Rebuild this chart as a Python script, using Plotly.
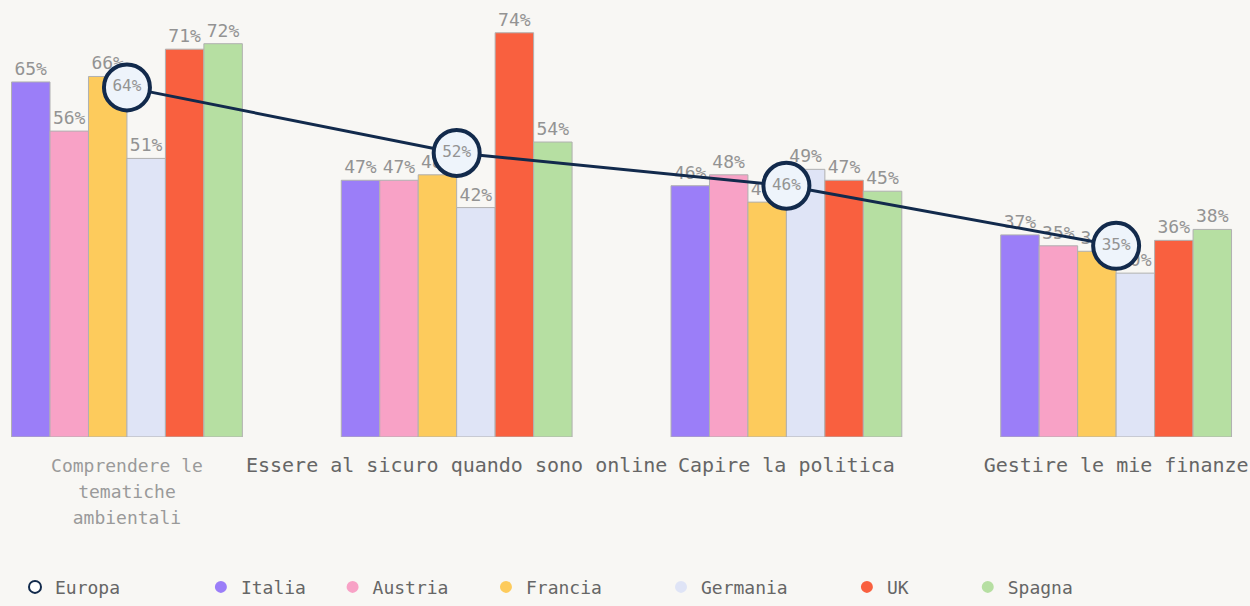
import plotly.graph_objects as go

categories = ["<span style='color:#9a9a9a;font-size:18px'>Comprendere le<br>tematiche<br>ambientali</span>",
              "Essere al sicuro quando sono online",
              "Capire la politica", "Gestire le mie finanze"]
countries = ["Italia", "Austria", "Francia", "Germania", "UK", "Spagna"]
values = {
    "Italia":   [65, 47, 46, 37],
    "Austria":  [56, 47, 48, 35],
    "Francia":  [66, 48, 43, 34],
    "Germania": [51, 42, 49, 30],
    "UK":       [71, 74, 47, 36],
    "Spagna":   [72, 54, 45, 38],
}
europa = [64, 52, 46, 35]

colors = {
    "Italia": "#9b7ef8",
    "Austria": "#f8a2c6",
    "Francia": "#fdcb5c",
    "Germania": "#dfe4f6",
    "UK": "#f9603f",
    "Spagna": "#b6dfa2",
}
legend_pad = {"Europa": 7, "Italia": 2, "Austria": 3, "Francia": 5, "Germania": 5, "UK": 5, "Spagna": 0}
BG = "#f8f7f4"
NAVY = "#122a4c"
FONT = "DejaVu Sans Mono"

fig = go.Figure()
for c in countries:
    fig.add_trace(go.Bar(
        x=categories, y=values[c], name=c,
        marker=dict(color=colors[c], line=dict(color="#b0b0b0", width=1)),
        text=[f"{v}%" for v in values[c]], textposition="outside",
        textfont=dict(color="#939393", size=18, family=FONT),
        cliponaxis=False, showlegend=False,
    ))

fig.add_trace(go.Scatter(
    x=categories, y=europa, name="Europa", mode="lines+markers+text",
    line=dict(color=NAVY, width=3),
    marker=dict(size=46, color="#eef4fb", line=dict(color=NAVY, width=4)),
    text=[f"{v}%" for v in europa], textposition="middle center",
    textfont=dict(color="#939393", size=16, family=FONT),
    cliponaxis=False, showlegend=False,
))

# legend entries (circle symbols)
fig.add_trace(go.Scatter(x=[None], y=[None], mode="markers",
                         name="Europa" + "\u00a0" * legend_pad["Europa"],
                         marker=dict(size=15, color="#ffffff", line=dict(color=NAVY, width=3.5))))
for c in countries:
    fig.add_trace(go.Scatter(x=[None], y=[None], mode="markers",
                             name=c + "\u00a0" * legend_pad[c],
                             marker=dict(size=18, color=colors[c], line=dict(width=0))))

fig.update_layout(
    width=1250, height=606,
    paper_bgcolor=BG, plot_bgcolor=BG,
    margin=dict(l=0, r=0, t=0, b=169),
    barmode="group", bargap=0.30, bargroupgap=0,
    font=dict(family=FONT, color="#666666"),
    legend=dict(orientation="h", x=0.012, xanchor="left", y=-0.386, yanchor="bottom",
                font=dict(size=18, color="#666666", family=FONT),
                itemsizing="constant", bgcolor="rgba(0,0,0,0)"),
)
fig.update_xaxes(range=[-0.385, 3.406], showgrid=False, zeroline=False, showline=False,
                 ticks="", ticklabelstandoff=14,
                 tickfont=dict(size=20, color="#666666", family=FONT))
fig.update_yaxes(range=[0, 80], visible=False, showgrid=False, zeroline=False)

fig.write_html("out.html", config={"displayModeBar": False},
               post_script="document.body.style.margin='0';document.body.style.overflow='hidden';")
